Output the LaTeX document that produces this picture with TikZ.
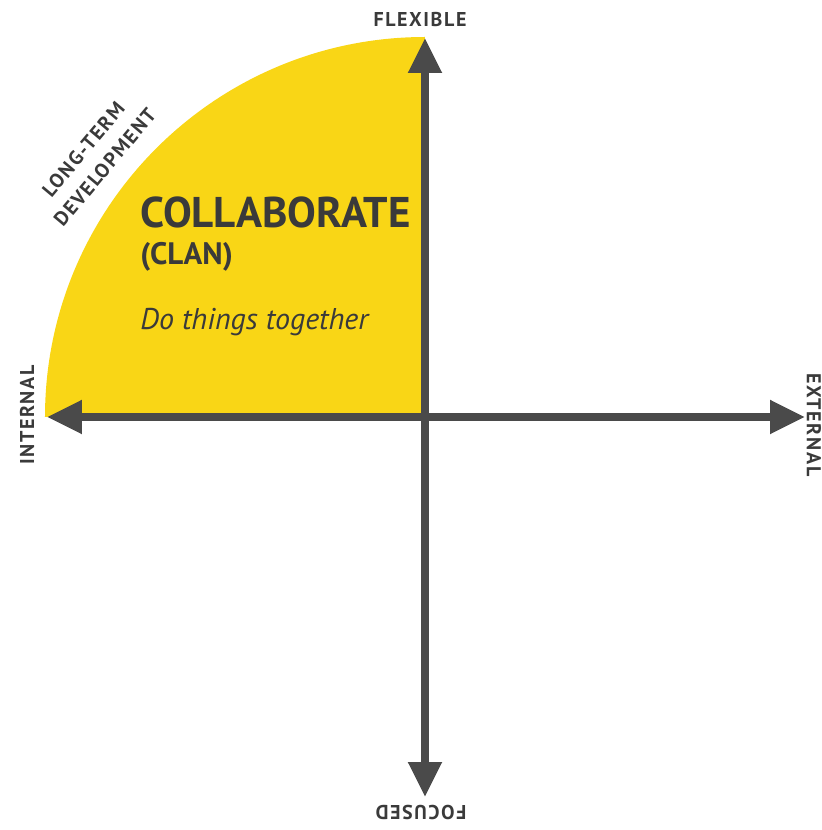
\documentclass[tikz,border=0pt]{standalone}
\usepackage{fontspec}
\setmainfont{PT Sans}
\newfontfamily\spacedfont[LetterSpace=8]{PT Sans Bold}
\usetikzlibrary{arrows.meta}
\definecolor{clanyellow}{HTML}{F9D616}
\definecolor{axisgrey}{HTML}{4A4A4A}
\definecolor{textgrey}{HTML}{3A3A3A}
\begin{document}
\begin{tikzpicture}[x=0.5pt,y=0.5pt]
      \useasboundingbox (-425,-413) rectangle (396,417);

      \coordinate (c) at (0,0);
      \coordinate (n) at (0,379);
      \coordinate (s) at (0,-380);
      \coordinate (w) at (-378,0);
      \coordinate (e) at (380,0);

      \fill[clanyellow] (c) -- (-380,0) arc[start angle=180,end angle=90,radius=380] -- cycle;

      \begin{scope}[axisgrey, line width=4pt, {Triangle[length=17.5pt,width=16pt]}-{Triangle[length=17.5pt,width=16pt]}]
        \draw (w) -- (e);
        \draw (s) -- (n);
      \end{scope}

      \begin{scope}[every node/.style={text=textgrey, font=\spacedfont\fontsize{10}{12}\selectfont, inner sep=0pt}]
        \node (flex)  at (-5,397)   {FLEXIBLE};
        \node (foc)   at (-4,-395)  [rotate=180] {FOCUSED};
        \node (int)   at (-398,2)   [rotate=90]  {INTERNAL};
        \node (ext)   at (389,-8)   [rotate=-90] {EXTERNAL};
        \node (long)  at (142:420)  [rotate=50, align=center, font=\spacedfont\fontsize{10}{14}\selectfont] {LONG-TERM\\DEVELOPMENT};
      \end{scope}

      \begin{scope}[every node/.style={text=textgrey, anchor=base west, inner sep=0pt}]
        \node (collab) at (-285,189) {\fontsize{21.5}{24}\selectfont\bfseries COLLABORATE};
        \node (clan)   at (-285,152) {\fontsize{15.5}{18}\selectfont\bfseries (CLAN)};
        \node (motto)  at (-285,87)  {\fontsize{15}{18}\selectfont\itshape Do things together};
      \end{scope}

    \end{tikzpicture}
\end{document}
